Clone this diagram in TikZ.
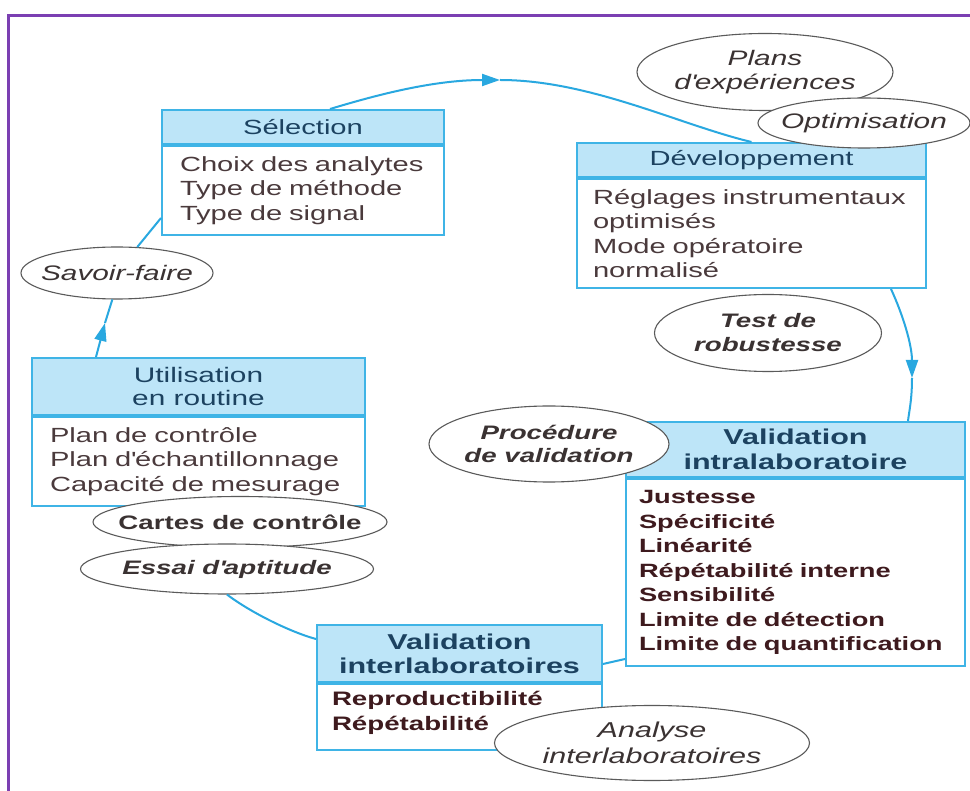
\documentclass[tikz,border=0pt]{standalone}
\usepackage{fontspec}
\setmainfont{Liberation Sans}[FakeStretch=1.42]
\usetikzlibrary{arrows.meta,shapes.geometric,calc}
\definecolor{framecol}{HTML}{7B3FB2}
\definecolor{boxline}{HTML}{3FB4E6}
\definecolor{hdrfill}{HTML}{BDE5F8}
\definecolor{conncol}{HTML}{29A8E0}
\definecolor{hdrtext}{HTML}{1C4260}
\definecolor{bodytext}{HTML}{4A3A3C}
\definecolor{boldtext}{HTML}{3E1A1E}
\definecolor{elltext}{HTML}{3A3232}
\definecolor{ellline}{HTML}{5A5A5A}
\newcommand\fz[2]{\fontsize{#1pt}{#2pt}\selectfont\hyphenpenalty=10000 }
\newcommand\apos{\textquotesingle}
\begin{document}
\begin{tikzpicture}[x=1pt,y=-1pt,
  hdr/.style={draw=boxline, line width=2pt, fill=hdrfill, inner sep=0pt, text=hdrtext, align=center},
  bdy/.style={draw=boxline, line width=2pt, fill=white, inner sep=0pt, text=bodytext, align=left, anchor=north},
  ell/.style={ellipse, draw=ellline, line width=1.1pt, fill=white, inner xsep=-60pt, inner ysep=-15pt, text=elltext, align=center},
  link/.style={draw=conncol, line width=2pt},
  tipped/.style={-{Triangle[length=18pt,width=12pt]}}
]
\useasboundingbox (0,0) rectangle (970,791);
\fill[white] (0,0) rectangle (970,791);
\draw[framecol, line width=3pt] (8,791) -- (8,16) -- (970,16);

% Selection
\node[hdr, minimum width=282pt, minimum height=34pt, font=\fz{20.5}{24}] (selh) at (303,127) {Sélection};
\node[bdy, minimum width=282pt, minimum height=89pt, text width=246pt, font=\fz{20.5}{24.5}] (selb) at (selh.south) {Choix des analytes\\Type de méthode\\Type de signal};

% Developpement
\node[hdr, minimum width=349pt, minimum height=34pt, font=\fz{20.5}{24}] (devh) at (751.5,160) {Développement};
\node[bdy, minimum width=349pt, minimum height=109pt, text width=317pt, font=\fz{20.5}{24.5}] (devb) at (devh.south) {Réglages instrumentaux\\optimisés\\Mode opératoire\\normalisé};

% Utilisation
\node[hdr, minimum width=333pt, minimum height=57pt, font=\fz{21}{23.5}] (uh) at (198.5,386.5) {Utilisation\\en routine};
\node[bdy, minimum width=333pt, minimum height=89pt, text width=297pt, font=\fz{20.5}{24.5}] (ub) at (uh.south) {Plan de contrôle\\Plan d\apos échantillonnage\\Capacité de mesurage};

% Validation intralaboratoire
\node[hdr, minimum width=339pt, minimum height=55pt, font=\fz{21.5}{24.5}\bfseries] (vh) at (795.5,449.5) {Validation\\intralaboratoire};
\node[bdy, minimum width=339pt, minimum height=187pt, text width=313pt, text=boldtext, font=\fz{19.2}{24.5}\bfseries] (vb) at (vh.south) {Justesse\\Spécificité\\Linéarité\\Répétabilité interne\\Sensibilité\\Limite de détection\\Limite de quantification};

% Validation interlaboratoires
\node[hdr, minimum width=285pt, minimum height=57pt, font=\fz{21.5}{24}\bfseries] (ih) at (459.5,653.5) {Validation\\interlaboratoires};
\node[bdy, minimum width=285pt, minimum height=66pt, text width=255pt, text=boldtext, font=\fz{19.5}{24.5}\bfseries] (ib) at (ih.south) {Reproductibilité\\Répétabilité\vspace{8pt}};

% connectors
\coordinate (ta) at (500,80);
\draw[link, tipped] ($(selh.north)+(27,0)$) .. controls (370,97) and (430,80) .. (ta);
\draw[link] (ta) .. controls (590,80) and (680,125) .. (devh.north);

\coordinate (tb) at (912,378);
\draw[link, tipped] ($(devb.south east)+(-36,0)$) .. controls (903,315) and (912,345) .. (tb);
\draw[link] (tb) .. controls (912,400) and (909,412) .. ($(vh.north east)+(-58,0)$);

% ellipses
\node[ell, minimum width=256pt, minimum height=77pt, font=\fz{21}{24}\itshape] (pe) at (765,72) {Plans\\d\apos expériences};
\node[ell, minimum width=212pt, minimum height=50pt, font=\fz{21}{24}\itshape] (op) at (864,123) {Optimisation};
\node[ell, minimum width=192pt, minimum height=52pt, font=\fz{21}{24}\itshape] (sf) at (117,273) {Savoir-faire};
\node[ell, minimum width=227pt, minimum height=77pt, font=\fz{19.5}{24}\bfseries\itshape] (tr) at (768,333) {Test de\\robustesse};
\node[ell, minimum width=240pt, minimum height=76pt, font=\fz{19.5}{23.5}\bfseries\itshape] (pv) at (549,444) {Procédure\\de validation};
\node[ell, minimum width=294pt, minimum height=51pt, font=\fz{19.5}{24}\bfseries] (cc) at (240,522) {Cartes de contrôle};
\node[ell, minimum width=293pt, minimum height=50pt, font=\fz{19.5}{24}\bfseries\itshape] (ea) at (227,569) {Essai d\apos aptitude};
\node[ell, minimum width=315pt, minimum height=75pt, font=\fz{21.5}{26}\itshape] (ai) at (652,743) {Analyse\\interlaboratoires};

\coordinate (tc) at (105,323);
\draw[link, tipped] ($(uh.north west)+(65,0)$) -- (tc);
\draw[link] (tc) -- (sf.260);

\draw[link] (sf.52) -- ($(selb.south west)+(0,-18)$);
\draw[link] (ea.south) .. controls (250,612) and (290,632) .. ($(ih.north west)+(0,15)$);
\draw[link] ($(ih.south east)+(0,-19)$) -- ($(vb.south west)+(0,-8)$);
\end{tikzpicture}
\end{document}
